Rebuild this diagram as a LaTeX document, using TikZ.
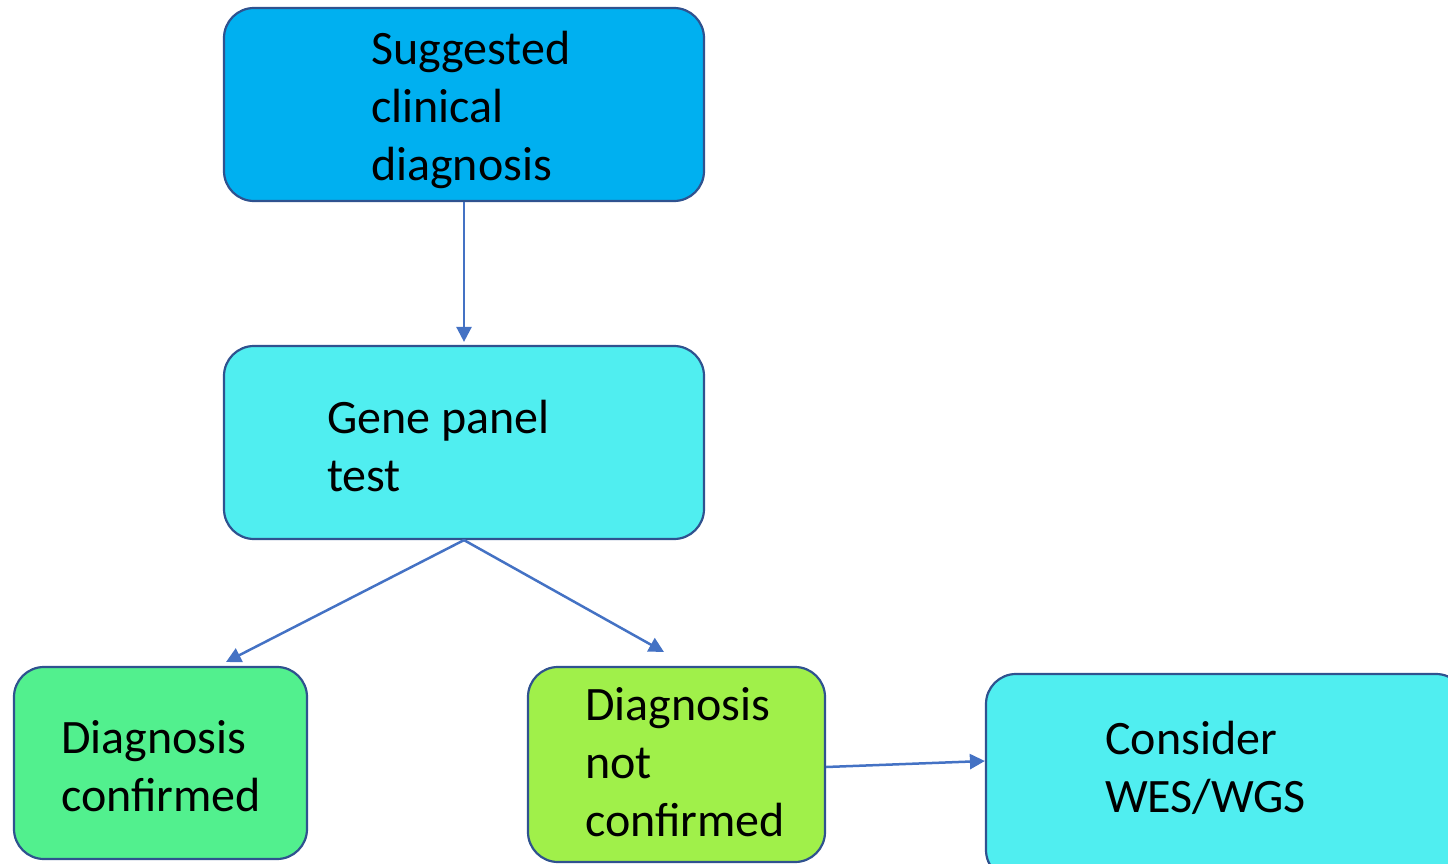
\documentclass[tikz,border=0pt]{standalone}
\usepackage{fontspec}
\setmainfont{Carlito}
\usetikzlibrary{arrows.meta,calc}
\definecolor{bordercol}{HTML}{2F528F}
\definecolor{arrowcol}{HTML}{4472C4}
\definecolor{bluefill}{HTML}{00B0F0}
\definecolor{cyanfill}{HTML}{50EEF0}
\definecolor{greenfill}{HTML}{52F08E}
\definecolor{limefill}{HTML}{A0F04A}
\tikzset{
  box/.style={draw=bordercol, line width=2.2pt, rounded corners=30pt, rectangle, inner sep=0pt},
  label/.style={align=left, anchor=west, inner sep=0pt, font=\fontsize{48}{58}\selectfont},
  arr/.style={draw=arrowcol, line width=2.5pt, -{Triangle[length=15pt,width=15pt]}},
}
\begin{document}
\begin{tikzpicture}[x=1pt,y=-1pt]
\useasboundingbox (0,0) rectangle (1448,864);
\node[box, fill=bluefill, minimum width=480pt, minimum height=193pt] (b1) at (464,104.5) {};
\node[box, fill=cyanfill, minimum width=480pt, minimum height=193pt] (b2) at (464,442.5) {};
\node[box, fill=greenfill, minimum width=293pt, minimum height=192pt] (b3) at (160.5,763) {};
\node[box, fill=limefill, minimum width=297pt, minimum height=195pt] (b4) at (676.5,764.5) {};
\node[box, fill=cyanfill, minimum width=480pt, minimum height=206pt] (b5) at (1226,777) {};

\node[label] (t1) at (371,109.5) {Suggested\\clinical\\diagnosis};
\node[label] (t2) at (327,446) {Gene panel\\test};
\node[label] (t3) at (61,766) {Diagnosis\\confirmed};
\node[label] (t4) at (585,762) {Diagnosis\\not\\confirmed};
\node[label] (t5) at (1105,768) {Consider\\WES/WGS};

\coordinate (e3) at (226,662);
\coordinate (e4) at (664,652);

\draw[arr, shorten >=3pt] (b1.south) -- (b2.north);
\draw[arr] (b2.south) -- (e3);
\draw[arr] (b2.south) -- (e4);
\draw[arr] ([yshift=-2.5pt]b4.east) -- ([yshift=16pt]b5.west);
\end{tikzpicture}
\end{document}
